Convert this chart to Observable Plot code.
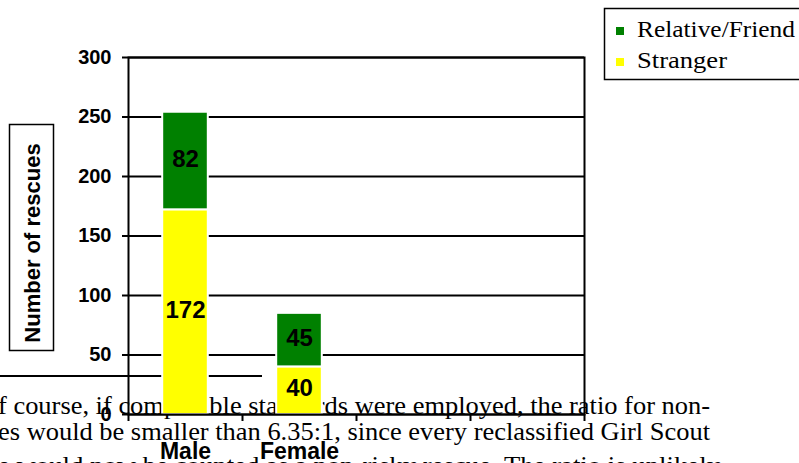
<!DOCTYPE html>
<html><head><meta charset="utf-8">
<script src="https://cdn.jsdelivr.net/npm/d3@7"></script>
<script src="https://cdn.jsdelivr.net/npm/@observablehq/plot@0.6"></script>
<style>
html,body{margin:0;padding:0;background:#fff;}
#wrap{position:relative;width:799px;height:463px;overflow:hidden;background:#fff;}
#bg{position:absolute;left:0;top:0;}
#chart{position:absolute;left:0;top:0;}
</style></head><body>
<div id="wrap"><svg id="bg" width="799" height="463"></svg><div id="chart"></div></div>
<script>
// ---- data ----
const categories = ["Male", "Female"];
const slotCount = 4;
const series = ["Relative/Friend", "Stranger"];
const seriesColors = ["#008000", "#ffff00"];
const stranger = [172, 40];
const relative = [82, 45];
const yTicks = [0, 50, 100, 150, 200, 250, 300];
const yTitle = "Number of rescues";
const pageLines = [
  "f course, if comparable standards were employed, the ratio for non-",
  "es would be smaller than 6.35:1, since every reclassified Girl Scout",
  "e would now be counted as a non-risky rescue.  The ratio is unlikely"
];

// ---- table ----
const rows = [];
categories.forEach((c, i) => {
  const s = stranger[i], r = relative[i];
  rows.push({cat: c, i, type: "Stranger", value: s, y1: 0, y2: s});
  rows.push({cat: c, i, type: "Relative/Friend", value: r, y1: s, y2: s + r});
});
const half = 0.2;
const sans = "'Liberation Sans', Arial, sans-serif";
const serif = "'Liberation Serif', 'Times New Roman', serif";

const plot = Plot.plot({
  width: 799, height: 463,
  marginLeft: 128, marginRight: 215, marginTop: 57, marginBottom: 49,
  style: {background: "transparent", fontFamily: sans, overflow: "visible"},
  x: {domain: [0, slotCount], axis: null},
  y: {domain: [0, 300], axis: null},
  color: {domain: series, range: seriesColors},
  marks: [
    Plot.ruleY(yTicks, {stroke: "black", strokeWidth: 2}),
    Plot.rectY(rows, {x1: d => d.i + 0.5 - half, x2: d => d.i + 0.5 + half, y1: "y1", y2: "y2",
      fill: "type", stroke: "white", strokeWidth: 2}),
    Plot.text(rows, {x: d => d.i + 0.5, y: d => (d.y1 + d.y2) / 2, text: d => String(d.value),
      fontSize: 24, fontWeight: "bold", fill: "black", dy: -2}),
    Plot.frame({stroke: "black", strokeWidth: 2}),
    Plot.axisY(yTicks, {tickSize: 6, tickFormat: () => "", strokeWidth: 2, label: null}),
    Plot.text(yTicks, {x: 0, y: d => d, text: d => String(d), textAnchor: "end", dx: -17,
      fontSize: 20, fontWeight: "bold", fill: "black"}),
    Plot.axisX(d3.range(0, slotCount + 1), {tickSize: 7, tickFormat: () => "", strokeWidth: 2, label: null}),
    Plot.text(categories, {x: (d, i) => i + 0.5, y: 0, text: d => d, dy: 37,
      fontSize: 23, fontWeight: "bold", fill: "black"})
  ]
});
document.getElementById("chart").appendChild(plot);

// ---- page decorations (background) ----
const bg = d3.select("#bg");
bg.append("line").attr("x1", 0).attr("x2", 262).attr("y1", 376).attr("y2", 376)
  .attr("stroke", "black").attr("stroke-width", 2);
const baselines = [414, 440, 474];
const widths = [712, 712, 722];
pageLines.forEach((t, k) => {
  bg.append("text").attr("x", -2).attr("y", baselines[k]).text(t)
    .attr("font-family", serif).attr("font-size", 25)
    .attr("textLength", widths[k]).attr("lengthAdjust", "spacingAndGlyphs").attr("fill", "black");
});
// y title box
bg.append("rect").attr("x", 9.5).attr("y", 124.5).attr("width", 44).attr("height", 226)
  .attr("fill", "none").attr("stroke", "black").attr("stroke-width", 1.5);
bg.append("text").attr("transform", "translate(32,243) rotate(-90)")
  .attr("text-anchor", "middle").attr("dominant-baseline", "central")
  .attr("font-family", sans).attr("font-weight", "bold").attr("font-size", 22).text(yTitle);
// legend
bg.append("rect").attr("x", 604.5).attr("y", 8.5).attr("width", 220).attr("height", 71)
  .attr("fill", "white").attr("stroke", "black").attr("stroke-width", 1.5);
const legendWidths = [158, 90];
series.forEach((s, k) => {
  const yb = 37 + k * 31;
  bg.append("rect").attr("x", 616).attr("y", yb - 10).attr("width", 8).attr("height", 8)
    .attr("fill", seriesColors[k]);
  bg.append("text").attr("x", 637).attr("y", yb).text(s)
    .attr("font-family", serif).attr("font-size", 23).attr("fill", "black")
    .attr("textLength", legendWidths[k]).attr("lengthAdjust", "spacingAndGlyphs");
});
</script>
</body></html>
